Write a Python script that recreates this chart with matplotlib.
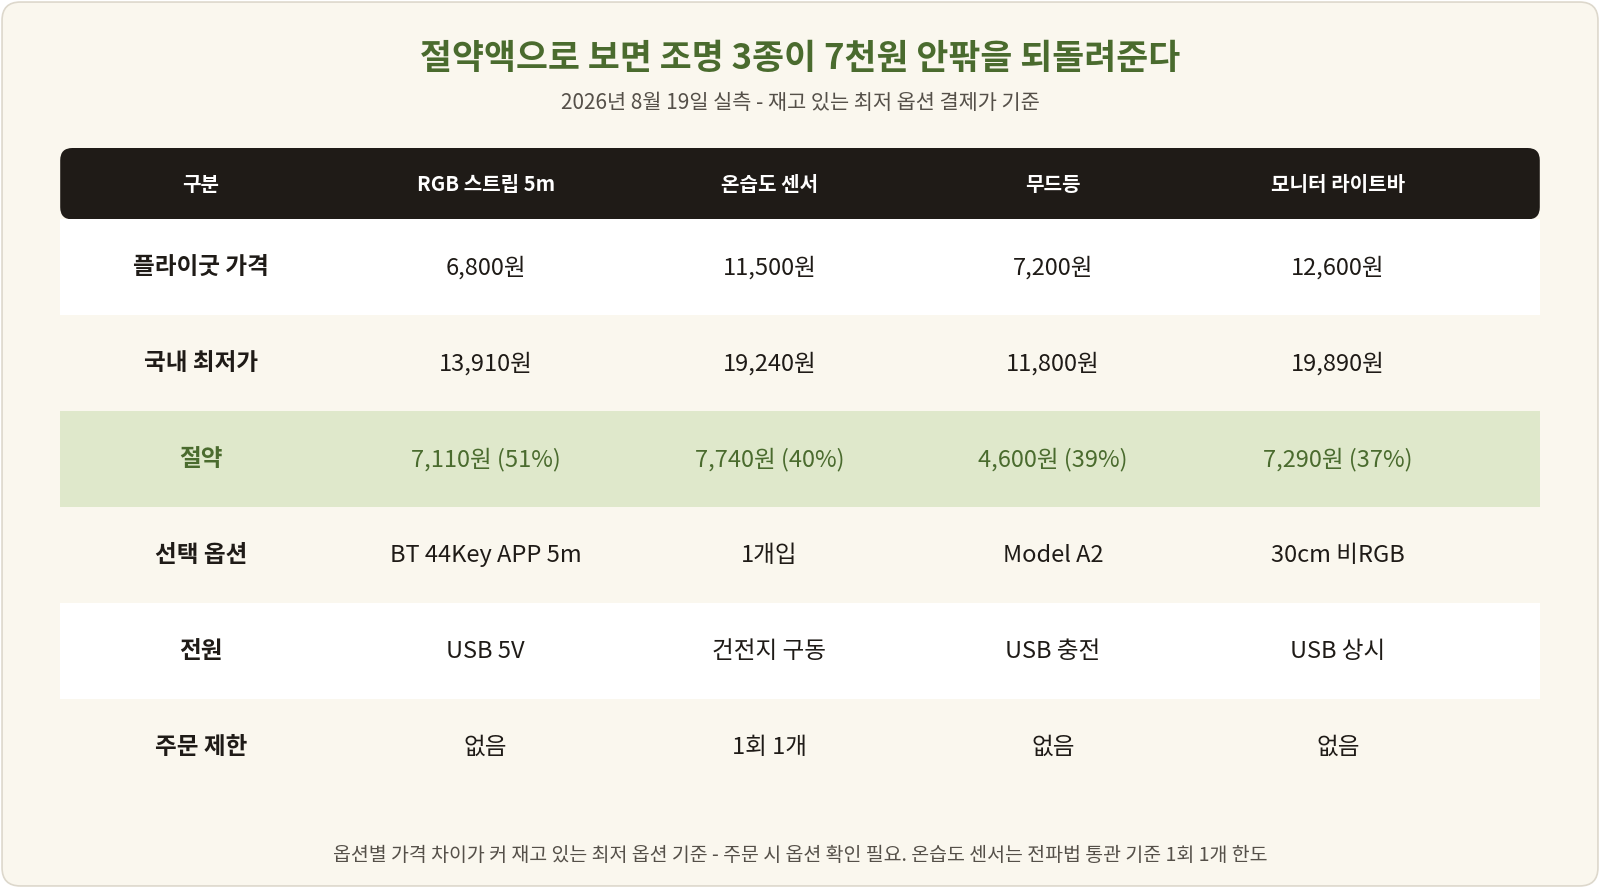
import matplotlib.pyplot as plt
from matplotlib.patches import FancyBboxPatch, Rectangle

plt.rcParams['font.family'] = ['Noto Sans CJK KR', 'DejaVu Sans']

title = "절약액으로 보면 조명 3종이 7천원 안팎을 되돌려준다"
subtitle = "2026년 8월 19일 실측 - 재고 있는 최저 옵션 결제가 기준"
footer = "옵션별 가격 차이가 커 재고 있는 최저 옵션 기준 - 주문 시 옵션 확인 필요. 온습도 센서는 전파법 통관 기준 1회 1개 한도"

headers = ["구분", "RGB 스트립 5m", "온습도 센서", "무드등", "모니터 라이트바"]
row_labels = ["플라이굿 가격", "국내 최저가", "절약", "선택 옵션", "전원", "주문 제한"]
flyprice = ["6,800원", "11,500원", "7,200원", "12,600원"]
lowest = ["13,910원", "19,240원", "11,800원", "19,890원"]
saving = ["7,110원 (51%)", "7,740원 (40%)", "4,600원 (39%)", "7,290원 (37%)"]
option = ["BT 44Key APP 5m", "1개입", "Model A2", "30cm 비RGB"]
power = ["USB 5V", "건전지 구동", "USB 충전", "USB 상시"]
limit = ["없음", "1회 1개", "없음", "없음"]
rows = [flyprice, lowest, saving, option, power, limit]

W, H = 1568, 870
bg = "#FAF7EE"
green = "#4A6B2E"
fig = plt.figure(figsize=(16, 8.88), dpi=100)
fig.patch.set_facecolor("white")
ax = fig.add_axes([0, 0, 1, 1])
ax.set_xlim(0, W)
ax.set_ylim(H, 0)
ax.axis("off")

ax.add_patch(FancyBboxPatch((2, 2), W - 4, H - 4, boxstyle="round,pad=0,rounding_size=18",
                            fc=bg, ec="#DDD8CC", lw=1.2))

ax.text(W / 2, 57, title, ha="center", va="center", fontsize=25, fontweight="bold", color=green)
ax.text(W / 2, 101, subtitle, ha="center", va="center", fontsize=15, color="#555049")

left, right = 59, 1509
col_x = [197, 476, 754, 1032, 1311]
ax.add_patch(FancyBboxPatch((left, 145), right - left, 70, boxstyle="round,pad=0,rounding_size=12",
                            fc="#1F1B17", ec="none"))
for x, h in zip(col_x, headers):
    ax.text(x, 181, h, ha="center", va="center", fontsize=14.5, fontweight="bold", color="white")

row_h = 94
fills = ["white", bg, "#DFE8CB", bg, "white", bg]
for i, (lab, vals) in enumerate(zip(row_labels, rows)):
    top = 215 + i * row_h
    ax.add_patch(Rectangle((left, top), right - left, row_h, fc=fills[i], ec="none"))
    cy = top + row_h / 2
    is_save = lab == "절약"
    c = green if is_save else "#1F1B17"
    ax.text(col_x[0], cy, lab, ha="center", va="center", fontsize=17, fontweight="bold", color=c)
    for x, v in zip(col_x[1:], vals):
        ax.text(x, cy, v, ha="center", va="center", fontsize=17, color=c)

ax.text(W / 2, 838, footer, ha="center", va="center", fontsize=14, color="#555049")

fig.savefig("out.png", dpi=100, facecolor=fig.get_facecolor())
